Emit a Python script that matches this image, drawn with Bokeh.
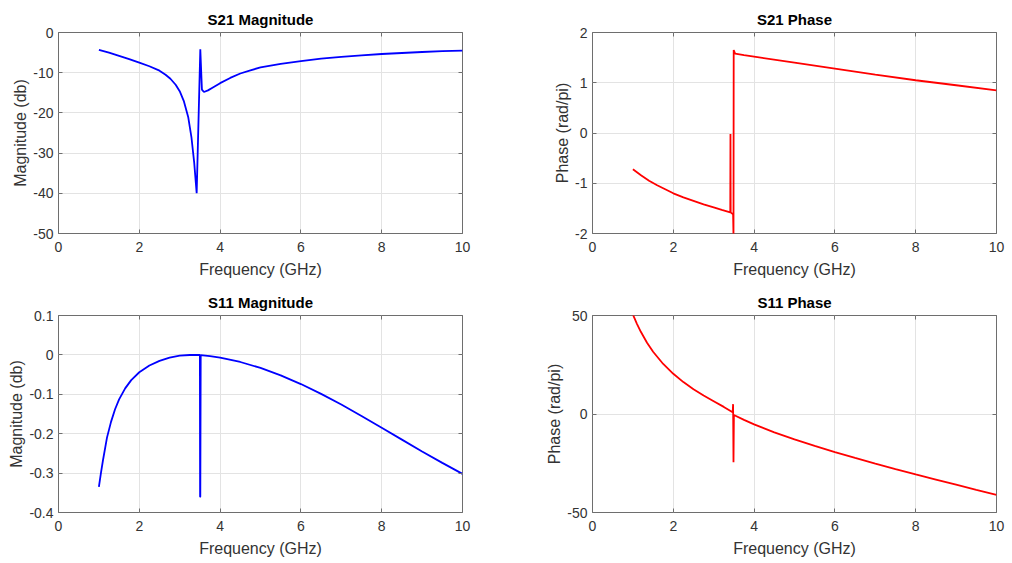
from bokeh.plotting import figure
from bokeh.layouts import column, row
from bokeh.models import Range1d, FixedTicker, LinearAxis
from bokeh.embed import file_html
from bokeh.resources import INLINE

# ---------------- data ----------------
s21_mag_f = [1.0, 1.25, 1.5, 1.75, 2.0, 2.25, 2.5, 2.65, 2.77, 2.9, 3.0, 3.1, 3.21, 3.29, 3.36, 3.40, 3.42,
             3.51, 3.55, 3.6, 3.7, 3.8, 4.0, 4.25, 4.5, 4.75, 5.0, 5.5, 6.0, 6.5, 7.0, 7.5,
             8.0, 8.5, 9.0, 9.5, 10.0]
s21_mag_db = [-4.3, -5.0, -5.8, -6.6, -7.5, -8.4, -9.5, -10.5, -11.5, -13.0, -14.6, -17.0, -21.0, -26.0, -32.5, -37.5, -40.0,
              -4.2, -14.2, -14.8, -14.4, -13.8, -12.6, -11.3, -10.2, -9.4, -8.7, -7.8, -7.1, -6.5, -6.05, -5.7,
              -5.35, -5.1, -4.85, -4.65, -4.5]

s21_ph_f = [1.0, 1.2, 1.4, 1.6, 1.8, 2.0, 2.25, 2.5, 2.75, 3.0, 3.2, 3.41, 3.415, 3.42, 3.48, 3.49,
            3.495, 3.53, 3.75, 4.0, 5.0, 6.0, 7.0, 8.0, 9.0, 10.0]
s21_ph = [-0.72, -0.84, -0.95, -1.04, -1.12, -1.2, -1.28, -1.35, -1.42, -1.48, -1.53, -1.58, -0.02, -1.58, -1.62, -2.05,
          1.65, 1.58, 1.55, 1.52, 1.40, 1.28, 1.16, 1.05, 0.95, 0.85]

s11_mag_f = [1.0, 1.05, 1.1, 1.2, 1.3, 1.4, 1.5, 1.65, 1.8, 2.0, 2.25, 2.5, 2.75, 3.0, 3.25, 3.5, 3.505, 3.51,
             3.52, 3.75, 4.0, 4.5, 5.0, 5.5, 6.0, 6.5, 7.0, 7.5, 8.0, 8.5, 9.0, 9.5, 10.0]
s11_mag_db = [-0.335, -0.3, -0.268, -0.21, -0.17, -0.138, -0.113, -0.085, -0.064, -0.044, -0.027, -0.015, -0.007, -0.002, -0.0003, 0.0, -0.36, -0.36,
              -0.0005, -0.003, -0.007, -0.018, -0.033, -0.052, -0.074, -0.099, -0.126, -0.155, -0.185, -0.215, -0.245, -0.274, -0.302]

s11_ph_f = [1.0, 1.1, 1.2, 1.35, 1.5, 1.75, 2.0, 2.25, 2.5, 2.75, 3.0, 3.25, 3.47, 3.48, 3.49, 3.5,
            3.75, 4.0, 4.5, 5.0, 5.5, 6.0, 6.5, 7.0, 7.5, 8.0, 8.5, 9.0, 9.5, 10.0]
s11_ph = [50.5, 45.8, 41.6, 36.2, 31.6, 25.4, 20.4, 16.2, 12.6, 9.4, 6.5, 3.6, 0.9, 5.0, -24.5, -0.5,
          -3.0, -5.3, -9.3, -12.9, -16.2, -19.3, -22.3, -25.2, -28.0, -30.7, -33.3, -35.9, -38.5, -41.0]

x_ticks = [0, 2, 4, 6, 8, 10]
titles = ["S21 Magnitude", "S21 Phase", "S11 Magnitude", "S11 Phase"]
x_label = "Frequency (GHz)"
y_labels = ["Magnitude (db)", "Phase (rad/pi)", "Magnitude (db)", "Phase (rad/pi)"]
y_ticks = [[0, -10, -20, -30, -40, -50], [-2, -1, 0, 1, 2],
           [0.1, 0, -0.1, -0.2, -0.3, -0.4], [-50, 0, 50]]
y_ranges = [(-50, 0), (-2, 2), (-0.4, 0.1), (-50, 50)]

FONT = "Liberation Sans"
TXT = "#333333"
AX = "#6e6e6e"


def blank_axis(ticks):
    return LinearAxis(ticker=FixedTicker(ticks=ticks), axis_line_color=None,
                      major_tick_in=4, major_tick_out=0, major_tick_line_color=AX,
                      minor_tick_line_color=None, major_label_text_font_size="0px",
                      major_label_standoff=0, major_label_text_alpha=0)


def make(i, xs, ys, color, bl, br, bt, bb, h):
    p = figure(width=bl + 404 + br, height=h, output_backend="svg", toolbar_location=None,
               x_range=Range1d(0, 10), y_range=Range1d(*y_ranges[i]),
               min_border_left=bl, min_border_right=br, min_border_top=bt, min_border_bottom=bb)
    p.title.text = titles[i]
    p.title.align = "center"
    p.title.text_font = FONT
    p.title.text_font_size = "15px"
    p.title.text_font_style = "bold"
    p.title.text_color = "#000000"
    p.title.standoff = 10
    p.outline_line_color = AX
    p.outline_line_width = 1
    p.outline_line_alpha = 1
    p.background_fill_color = "white"
    p.border_fill_color = "white"
    for ax in (p.xaxis, p.yaxis):
        ax.axis_line_color = None
        ax.major_tick_in = 4
        ax.major_tick_out = 0
        ax.major_tick_line_color = AX
        ax.minor_tick_line_color = None
        ax.major_label_text_font = FONT
        ax.major_label_text_font_size = "14px"
        ax.major_label_text_color = TXT
        ax.axis_label_text_font = FONT
        ax.axis_label_text_font_size = "16px"
        ax.axis_label_text_font_style = "normal"
        ax.axis_label_text_color = TXT
    p.xaxis.ticker = FixedTicker(ticks=x_ticks)
    p.yaxis.ticker = FixedTicker(ticks=y_ticks[i])
    p.yaxis.major_label_overrides = {v: ("%g" % v) for v in y_ticks[i]}
    p.xaxis.major_label_standoff = 8
    p.yaxis.major_label_standoff = 5
    p.xaxis.axis_label_standoff = 6
    p.yaxis.axis_label_standoff = 1
    p.xaxis.axis_label = x_label
    p.yaxis.axis_label = y_labels[i]
    p.add_layout(blank_axis(x_ticks), "above")
    p.add_layout(blank_axis(y_ticks[i]), "right")
    p.xgrid.ticker = FixedTicker(ticks=x_ticks)
    p.ygrid.ticker = FixedTicker(ticks=y_ticks[i])
    p.xgrid.grid_line_color = "#e3e3e3"
    p.ygrid.grid_line_color = "#e3e3e3"
    p.line(xs, ys, line_color=color, line_width=1.8)
    return p


p1 = make(0, s21_mag_f, s21_mag_db, "#0000ff", 58, 46, 32, 53, 286)
p2 = make(1, s21_ph_f, s21_ph, "#ff0000", 84, 16, 32, 53, 286)
p3 = make(2, s11_mag_f, s11_mag_db, "#0000ff", 58, 46, 25, 47, 273)
p4 = make(3, s11_ph_f, s11_ph, "#ff0000", 84, 16, 25, 47, 273)

layout = column(row(p1, p2), row(p3, p4))

open("out.html", "w").write(file_html(layout, INLINE))
